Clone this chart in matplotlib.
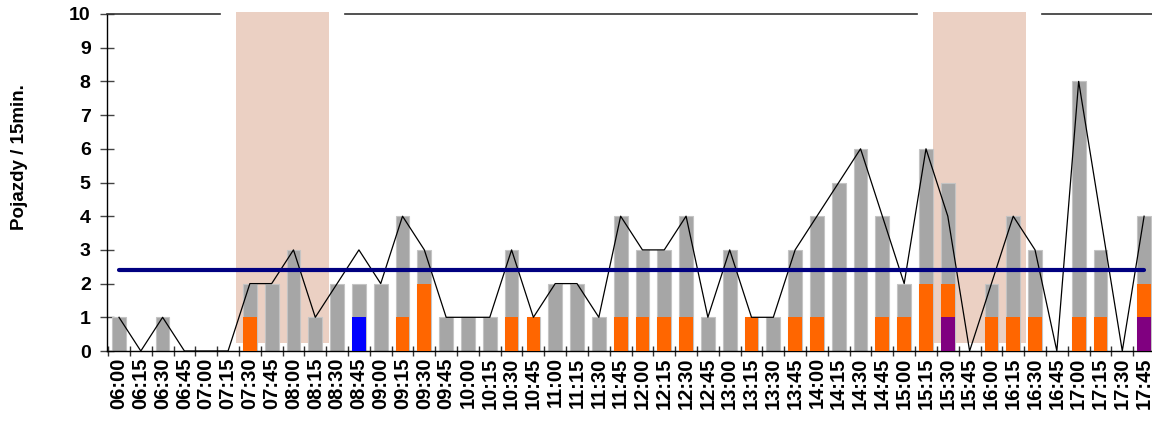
import matplotlib
matplotlib.use("Agg")
import matplotlib.pyplot as plt
import numpy as np

plt.rcParams['font.family'] = ['Liberation Sans', 'DejaVu Sans']

times = ["06:00","06:15","06:30","06:45","07:00","07:15","07:30","07:45",
         "08:00","08:15","08:30","08:45","09:00","09:15","09:30","09:45",
         "10:00","10:15","10:30","10:45","11:00","11:15","11:30","11:45",
         "12:00","12:15","12:30","12:45","13:00","13:15","13:30","13:45",
         "14:00","14:15","14:30","14:45","15:00","15:15","15:30","15:45",
         "16:00","16:15","16:30","16:45","17:00","17:15","17:30","17:45"]

total = [1,0,1,0,0,0,2,2, 3,1,2,2,2,4,3,1, 1,1,3,1,2,2,1,4,
         3,3,4,1,3,1,1,3, 4,5,6,4,2,6,5,0, 2,4,3,0,8,3,0,4]
orange = [0,0,0,0,0,0,1,0, 0,0,0,0,0,1,2,0, 0,0,1,1,0,0,0,1,
          1,1,1,0,0,1,0,1, 1,0,0,1,1,2,1,0, 1,1,1,0,1,1,0,1]
purple = [0]*38 + [1] + [0]*8 + [1]
blue = [0]*11 + [1] + [0]*36
line_vals = [1,0,1,0,0,0,2,2, 3,1,2,3,2,4,3,1, 1,1,3,1,2,2,1,4,
             3,3,4,1,3,1,1,3, 4,5,6,4,2,6,4,0, 2,4,3,0,8,4,0,4]
average = 2.4

# shaded peak periods (in category index units)
peaks = [(5.38, 9.63), (37.34, 41.59)]
# top frame segments (index units)
top_segments = [(-0.55, 4.65), (10.35, 36.58), (42.32, 47.5)]

x = np.arange(len(times))
total = np.array(total, float)
orange = np.array(orange, float)
purple = np.array(purple, float)
blue = np.array(blue, float)

fig = plt.figure(figsize=(11.52, 4.21), dpi=100)
ax = fig.add_axes([107/1152, 70/421, 1048/1152, 337/421])

for a, b in peaks:
    ax.fill_between([a, b], 0.25, 10.06, color='#ebd0c3', zorder=1, linewidth=0, clip_on=False)

w = 0.63
ax.bar(x, total, width=w, color='#a6a6a6', edgecolor='#c4c4c4', linewidth=0.8, zorder=2)
ax.bar(x, purple, width=w, color='#800080', linewidth=0, zorder=3)
ax.bar(x, blue, width=w, color='#0000ff', linewidth=0, zorder=3)
ax.bar(x, orange, width=w, bottom=purple + blue, color='#ff6600', linewidth=0, zorder=3)

ax.plot(x, line_vals, color='black', linewidth=0.9, zorder=4)
ax.plot([x[0], x[-1]], [average, average], color='#000080', linewidth=3.0,
        solid_capstyle='round', zorder=5)

for a, b in top_segments:
    ax.plot([a, b], [10, 10], color='#333333', linewidth=1.2, clip_on=False, zorder=6)

ax.set_xlim(-0.55, 47.5)
ax.set_ylim(0, 10)
for s in ['top', 'right']:
    ax.spines[s].set_visible(False)
ax.spines['left'].set_linewidth(1.0)
ax.spines['bottom'].set_linewidth(1.0)

ax.set_yticks(range(0, 11))
ax.set_yticklabels([str(v) for v in range(0, 11)], fontsize=14, fontweight='bold')
ax.tick_params(axis='y', direction='inout', length=9.4, width=1.0, color='#444444', pad=7.0)

ax.set_xticks(x)
ax.set_xticklabels(times, rotation=90, fontsize=14.5, fontweight='bold')
ax.tick_params(axis='x', which='major', length=0, pad=4.5)
ax.set_xticks(np.arange(-0.5, 47.5, 1.0), minor=True)
ax.tick_params(axis='x', which='minor', direction='inout', length=7.2, width=1.0, color='#333333')

fig.text(20/1152, 1 - 157/421, "Pojazdy / 15min.", rotation=90, fontsize=13.5,
         fontweight='bold', ha='center', va='center')

fig.savefig("out.png", dpi=100)
